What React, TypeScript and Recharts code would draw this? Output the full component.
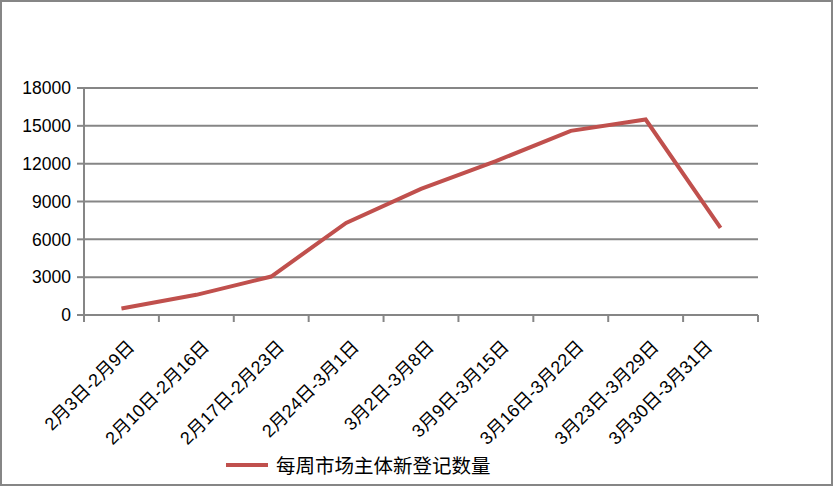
import React from 'react';
import { LineChart, Line, XAxis, YAxis, CartesianGrid } from 'recharts';

const categories = [
  '2月3日-2月9日',
  '2月10日-2月16日',
  '2月17日-2月23日',
  '2月24日-3月1日',
  '3月2日-3月8日',
  '3月9日-3月15日',
  '3月16日-3月22日',
  '3月23日-3月29日',
  '3月30日-3月31日',
];
const weeklyNew = [520, 1600, 3050, 7300, 10000, 12200, 14600, 15500, 6900];
const yTicks = [0, 3000, 6000, 9000, 12000, 15000, 18000];
const seriesName = '每周市场主体新登记数量';

const data = categories.map((c, i) => ({ name: c, value: weeklyNew[i] }));

const W = 833;
const H = 486;
const MARGIN = { top: 88, right: 75, left: 24, bottom: 0 };
const Y_WIDTH = 60;
const X_HEIGHT = 171;
const PLOT_W = W - MARGIN.left - MARGIN.right - Y_WIDTH;
const STEP = PLOT_W / categories.length;
const GRID = '#868686';
const RED = '#C0504D';
const LATIN = '"Liberation Sans", Arial, "Noto Sans CJK SC", sans-serif';

const XTick = (props: any) => {
  const { x, y, payload, index } = props;
  const half = STEP / 2;
  const isLast = index === categories.length - 1;
  const ax = x + (isLast ? -7 : 14);
  const ay = y + 33;
  return (
    <g>
      <line x1={x - half} x2={x - half} y1={y} y2={y + 7} stroke={GRID} strokeWidth={2} />
      {isLast && (
        <line x1={x + half} x2={x + half} y1={y} y2={y + 7} stroke={GRID} strokeWidth={2} />
      )}
      <text
        x={ax}
        y={ay}
        transform={`rotate(-45, ${ax}, ${ay})`}
        textAnchor="end"
        fill="#000"
        fontSize={18}
        fontFamily={LATIN}
      >
        {payload.value}
      </text>
    </g>
  );
};

export default function App() {
  return (
    <div style={{ position: 'absolute', left: 0, top: 0, width: W, height: H, background: '#fff' }}>
      <LineChart width={W} height={H} data={data} margin={MARGIN}>
        <CartesianGrid horizontal vertical={false} stroke={GRID} strokeWidth={2} strokeOpacity={1} />
        <XAxis
          dataKey="name"
          height={X_HEIGHT}
          padding={{ left: STEP / 2, right: STEP / 2 }}
          axisLine={{ stroke: GRID, strokeWidth: 2 }}
          tickLine={false}
          tickSize={0}
          tickMargin={0}
          interval={0}
          tick={<XTick />}
        />
        <YAxis
          width={Y_WIDTH}
          domain={[0, 18000]}
          ticks={yTicks}
          interval={0}
          axisLine={{ stroke: GRID, strokeWidth: 2 }}
          tickLine={{ stroke: GRID, strokeWidth: 2 }}
          tickSize={7}
          tickMargin={6}
          tick={{ fill: '#000', fontSize: 17.5, fontFamily: LATIN }}
        />
        <Line
          type="linear"
          dataKey="value"
          name={seriesName}
          stroke={RED}
          strokeWidth={4}
          dot={false}
          activeDot={false}
          isAnimationActive={false}
        />
      </LineChart>
      <div
        style={{
          position: 'absolute',
          left: 226,
          top: 452,
          height: 26,
          display: 'flex',
          alignItems: 'center',
          fontFamily: '"Noto Sans CJK SC", sans-serif',
          fontSize: 19.5,
          color: '#000',
          whiteSpace: 'nowrap',
        }}
      >
        <span style={{ display: 'inline-block', width: 42, height: 4, background: RED, marginRight: 8 }} />
        <span style={{ lineHeight: '26px' }}>{seriesName}</span>
      </div>
      <div
        style={{
          position: 'absolute',
          left: 0,
          top: 0,
          width: W,
          height: H,
          border: `2px solid ${GRID}`,
          boxSizing: 'border-box',
          pointerEvents: 'none',
        }}
      />
    </div>
  );
}
